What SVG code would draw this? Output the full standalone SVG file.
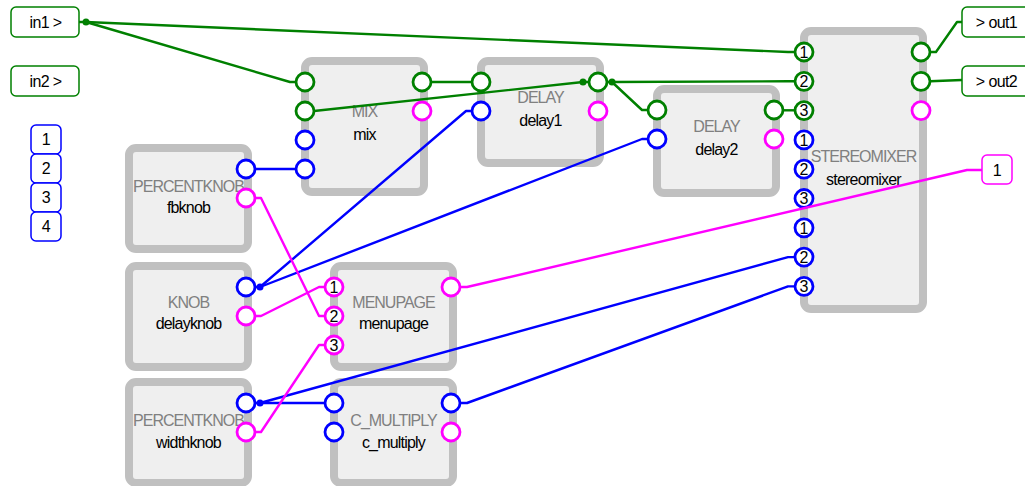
<svg xmlns="http://www.w3.org/2000/svg" width="1025" height="486" viewBox="0 0 1025 486">
<style>
.bg{fill:#ffffff}
.box{fill:#efefef;stroke:#c0c0c0;stroke-width:8}
.t{font-family:"Liberation Sans",Arial,sans-serif;font-size:16px;text-anchor:middle;letter-spacing:-0.8px}
.type{fill:#808080;letter-spacing:-1px}
.name{fill:#000000}
.num{font-family:"Liberation Sans",Arial,sans-serif;font-size:16px;text-anchor:middle;fill:#000000}
.io{font-family:"Liberation Sans",Arial,sans-serif;font-size:16px;text-anchor:middle;fill:#000000;letter-spacing:-0.6px}
.pg,.pb,.pm{fill:#ffffff;stroke-width:2.8}
.pg{stroke:#008000}
.pb{stroke:#0000ff}
.pm{stroke:#ff00ff}
.iog{fill:#ffffff;stroke:#008000;stroke-width:1.5}
.iob{fill:#ffffff;stroke:#0000ff;stroke-width:1.5}
.iom{fill:#ffffff;stroke:#ff00ff;stroke-width:1.5}
.cg,.cb,.cm{fill:none;stroke-width:2.4;stroke-linejoin:round}
.cg{stroke:#008000}
.cb{stroke:#0000ff}
.cm{stroke:#ff00ff}
.dg{fill:#008000}
.db{fill:#0000ff}
</style>
<rect class="bg" x="0" y="0" width="1025" height="486"/>

<g id="in1"><rect class="iog" x="11" y="7" width="68" height="30" rx="5"/><text class="io" x="45.5" y="28">in1 &gt;</text></g>
<g id="in2"><rect class="iog" x="11" y="66" width="68" height="30" rx="5"/><text class="io" x="45.5" y="87">in2 &gt;</text></g>
<g id="k1"><rect class="iob" x="31" y="125" width="30" height="29" rx="5"/><text class="io" x="46" y="145">1</text></g>
<g id="k2"><rect class="iob" x="31" y="154" width="30" height="29" rx="5"/><text class="io" x="46" y="174">2</text></g>
<g id="k3"><rect class="iob" x="31" y="183" width="30" height="29" rx="5"/><text class="io" x="46" y="203">3</text></g>
<g id="k4"><rect class="iob" x="31" y="212" width="30" height="29" rx="5"/><text class="io" x="46" y="232">4</text></g>
<g id="out1"><rect class="iog" x="962" y="7" width="70" height="30" rx="5"/><text class="io" x="996.5" y="28">&gt; out1</text></g>
<g id="out2"><rect class="iog" x="962" y="66" width="70" height="30" rx="5"/><text class="io" x="996.5" y="87">&gt; out2</text></g>
<g id="p1"><rect class="iom" x="982" y="155" width="30" height="29" rx="5"/><text class="io" x="997" y="175.5">1</text></g>

<g id="mix">
<rect class="box" x="305" y="61" width="119" height="131" rx="7"/>
<text class="t type" x="364.5" y="117">MIX</text>
<text class="t name" x="364.5" y="140">mix</text>
<circle class="pg" cx="305" cy="82" r="9"/>
<circle class="pg" cx="305" cy="111" r="9"/>
<circle class="pb" cx="305" cy="140" r="9"/>
<circle class="pb" cx="305" cy="169" r="9"/>
<circle class="pg" cx="422" cy="82" r="9"/>
<circle class="pm" cx="422" cy="111" r="9"/>
</g>

<g id="delay1">
<rect class="box" x="481" y="61" width="119" height="102" rx="7"/>
<text class="t type" x="540.5" y="103">DELAY</text>
<text class="t name" x="540.5" y="126">delay1</text>
<circle class="pg" cx="481" cy="82" r="9"/>
<circle class="pb" cx="481" cy="111" r="9"/>
<circle class="pg" cx="598" cy="82" r="9"/>
<circle class="pm" cx="598" cy="111" r="9"/>
</g>

<g id="delay2">
<rect class="box" x="657" y="89" width="119" height="104" rx="7"/>
<text class="t type" x="716.5" y="132">DELAY</text>
<text class="t name" x="716.5" y="155">delay2</text>
<circle class="pg" cx="657" cy="110" r="9"/>
<circle class="pb" cx="657" cy="139" r="9"/>
<circle class="pg" cx="774" cy="110" r="9"/>
<circle class="pm" cx="774" cy="139" r="9"/>
</g>

<g id="stereomixer">
<rect class="box" x="804" y="31" width="119" height="278" rx="7"/>
<text class="t type" x="863.5" y="162">STEREOMIXER</text>
<text class="t name" x="863.5" y="185">stereomixer</text>
<circle class="pg" cx="804" cy="52" r="9"/><text class="num" x="804" y="57.8">1</text>
<circle class="pg" cx="804" cy="81.3" r="9"/><text class="num" x="804" y="87.1">2</text>
<circle class="pg" cx="804" cy="110.6" r="9"/><text class="num" x="804" y="116.4">3</text>
<circle class="pb" cx="804" cy="139.9" r="9"/><text class="num" x="804" y="145.7">1</text>
<circle class="pb" cx="804" cy="169.2" r="9"/><text class="num" x="804" y="175">2</text>
<circle class="pb" cx="804" cy="198.5" r="9"/><text class="num" x="804" y="204.3">3</text>
<circle class="pb" cx="804" cy="227.8" r="9"/><text class="num" x="804" y="233.6">1</text>
<circle class="pb" cx="804" cy="257.1" r="9"/><text class="num" x="804" y="262.9">2</text>
<circle class="pb" cx="804" cy="286.4" r="9"/><text class="num" x="804" y="292.2">3</text>
<circle class="pg" cx="921" cy="52" r="9"/>
<circle class="pg" cx="921" cy="81.3" r="9"/>
<circle class="pm" cx="921" cy="110.6" r="9"/>
</g>

<g id="fbknob">
<rect class="box" x="129" y="148" width="119" height="101" rx="7"/>
<text class="t type" x="188.5" y="192">PERCENTKNOB</text>
<text class="t name" x="188.5" y="213">fbknob</text>
<circle class="pb" cx="246" cy="169" r="9"/>
<circle class="pm" cx="246" cy="198" r="9"/>
</g>

<g id="delayknob">
<rect class="box" x="129" y="266" width="119" height="101" rx="7"/>
<text class="t type" x="188.5" y="308">KNOB</text>
<text class="t name" x="188.5" y="329">delayknob</text>
<circle class="pb" cx="246" cy="287" r="9"/>
<circle class="pm" cx="246" cy="316" r="9"/>
</g>

<g id="widthknob">
<rect class="box" x="129" y="382" width="119" height="101" rx="7"/>
<text class="t type" x="188.5" y="426">PERCENTKNOB</text>
<text class="t name" x="188.5" y="448">widthknob</text>
<circle class="pb" cx="246" cy="403" r="9"/>
<circle class="pm" cx="246" cy="432" r="9"/>
</g>

<g id="menupage">
<rect class="box" x="334" y="266" width="119" height="101" rx="7"/>
<text class="t type" x="393.5" y="308">MENUPAGE</text>
<text class="t name" x="393.5" y="329">menupage</text>
<circle class="pm" cx="334" cy="287" r="9"/><text class="num" x="334" y="292.8">1</text>
<circle class="pm" cx="334" cy="316" r="9"/><text class="num" x="334" y="321.8">2</text>
<circle class="pm" cx="334" cy="345" r="9"/><text class="num" x="334" y="350.8">3</text>
<circle class="pm" cx="451" cy="287" r="9"/>
</g>

<g id="c_multiply">
<rect class="box" x="334" y="382" width="119" height="101" rx="7"/>
<text class="t type" x="393.5" y="426">C_MULTIPLY</text>
<text class="t name" x="393.5" y="448">c_multiply</text>
<circle class="pb" cx="334" cy="403" r="9"/>
<circle class="pb" cx="334" cy="432" r="9"/>
<circle class="pb" cx="451" cy="403" r="9"/>
<circle class="pm" cx="451" cy="432" r="9"/>
</g>

<g id="connectors">
<path class="cg" d="M79,22 H86 L290,82 H296"/>
<path class="cg" d="M86,22 L788,52 H795"/>
<path class="cg" d="M431,82 H472"/>
<path class="cg" d="M607,82 H612 L788,81.3 H795"/>
<path class="cg" d="M612,82 L642,110 H648"/>
<path class="cg" d="M589,82 H583 L314,111"/>
<path class="cg" d="M783,110.3 H795"/>
<path class="cg" d="M930,52 H936 L957,22 H962"/>
<path class="cg" d="M930,81.3 L962,80"/>
<path class="cb" d="M255,169 H296"/>
<path class="cb" d="M255,287 H260 L466,111 H472"/>
<path class="cb" d="M260,287 L642,139 H648"/>
<path class="cb" d="M255,403 H325"/>
<path class="cb" d="M260,403 L788,257.1 H795"/>
<path class="cb" d="M460,403 H467 L788,286.4 H795"/>
<path class="cm" d="M255,198 H261 L319,316 H325"/>
<path class="cm" d="M255,316 H261 L319,287 H325"/>
<path class="cm" d="M255,432 H261 L319,345 H325"/>
<path class="cm" d="M460,287 H467 L967,170 H982"/>
<circle class="dg" cx="86" cy="22" r="3.5"/>
<circle class="dg" cx="583" cy="82" r="3.5"/>
<circle class="dg" cx="612" cy="82" r="3.5"/>
<circle class="db" cx="260" cy="287" r="3.5"/>
<circle class="db" cx="260" cy="403" r="3.5"/>
</g>
</svg>
